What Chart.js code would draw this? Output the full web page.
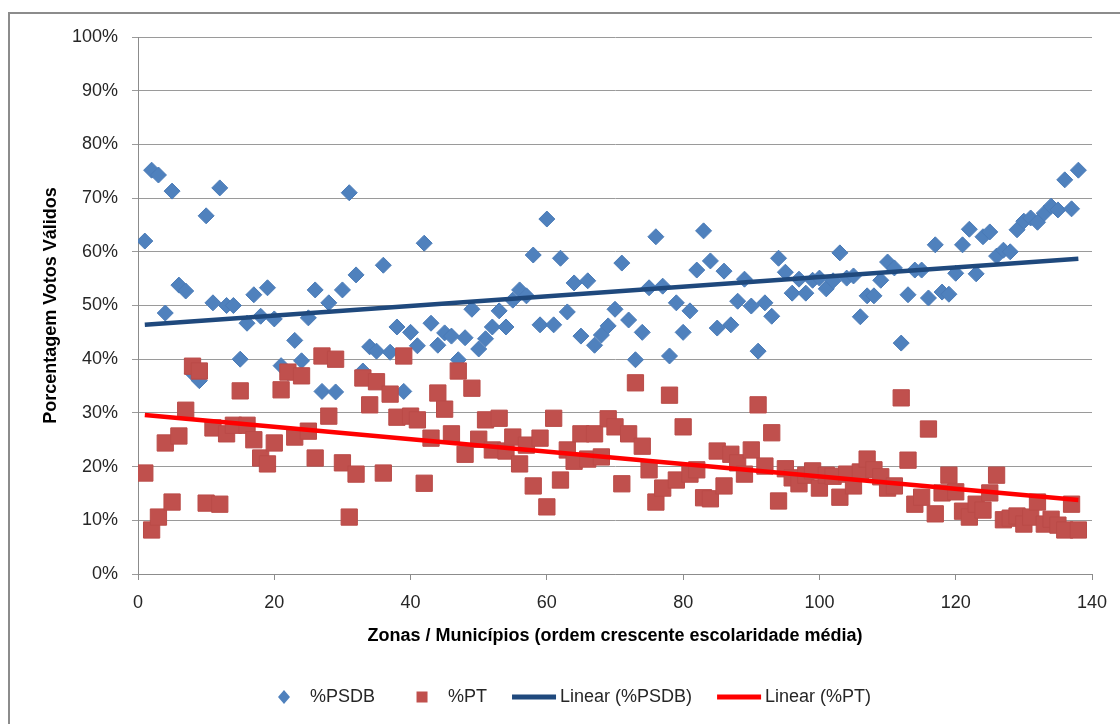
<!DOCTYPE html>
<html>
<head>
<meta charset="utf-8">
<script src="https://cdn.jsdelivr.net/npm/chart.js@4"></script>
<style>
  body { margin: 0; background: #fff; }
  #wrap { position: relative; width: 1120px; height: 724px; overflow: hidden; }
  #frame { position: absolute; left: 8px; top: 12px; width: 1200px; height: 800px;
           border-left: 2px solid #8c8c8c; border-top: 2px solid #8c8c8c; }
  canvas { position: absolute; left: 0; top: 0; }
</style>
</head>
<body>
<div id="wrap">
  <div id="frame"></div>
  <canvas id="myChart" width="1120" height="724"></canvas>
</div>
<script>
const ctx = document.getElementById('myChart').getContext('2d');

// % of valid votes per zone, in order of rising average schooling
const psdb = [
  62, 75.2, 74.3, 48.6, 71.3, 53.8, 52.7, 37.4, 36, 66.7,
  50.5, 71.9, 50, 50, 40, 46.7, 52, 48, 53.3, 47.5,
  38.8, 37.5, 43.5, 39.7, 47.7, 52.9, 34, 50.5, 33.9, 52.9,
  71, 55.7, 37.8, 42.3, 41.5, 57.5, 41.3, 46, 34, 45,
  42.5, 61.6, 46.7, 42.6, 44.9, 44.3, 39.9, 44, 49.3, 41.9,
  43.8, 46, 49, 46, 51, 52.9, 51.8, 59.4, 46.4, 66.1,
  46.4, 58.8, 48.8, 54.2, 44.3, 54.6, 42.6, 44.5, 46.2, 49.3,
  57.9, 47.3, 39.9, 45, 53.3, 62.8, 53.6, 40.6, 50.5, 45,
  49, 56.6, 63.9, 58.3, 45.8, 56.4, 46.4, 50.8, 54.9, 49.9,
  41.5, 50.5, 48, 58.8, 56.2, 52.3, 54.9, 52.3, 54.7, 55.1,
  53.1, 54.6, 59.8, 55.1, 55.5, 47.9, 51.8, 51.8, 54.7, 58.1,
  57, 43, 52, 56.6, 56.6, 51.4, 61.3, 52.5, 52.1, 56,
  61.3, 64.2, 55.9, 62.8, 63.7, 59.2, 60.3, 60, 64.1, 65.7,
  66.3, 65.5, 67.2, 68.5, 67.8, 73.4, 68, 75.2
];
const pt = [
  18.8, 8.2, 10.6, 24.4, 13.4, 25.7, 30.5, 38.7, 37.8, 13.2,
  27.2, 13, 26.1, 27.7, 34.1, 27.7, 25, 21.6, 20.5, 24.4,
  34.3, 37.6, 25.5, 36.9, 26.6, 21.6, 40.6, 29.4, 40, 20.7,
  10.6, 18.6, 36.5, 31.5, 35.8, 18.8, 33.5, 29.2, 40.6, 29.4,
  28.7, 16.9, 25.3, 33.7, 30.7, 26.1, 37.8, 22.3, 34.6, 25.1,
  28.7, 23.1, 29, 22.9, 25.5, 20.5, 24, 16.4, 25.3, 12.5,
  29, 17.5, 23.1, 21, 26.1, 21.4, 26.1, 21.8, 28.9, 27.4,
  16.8, 26.1, 35.6, 23.8, 19.4, 13.4, 16, 33.3, 17.5, 27.4,
  18.6, 19.4, 14.2, 14, 22.9, 16.4, 22.3, 20.7, 18.6, 23.1,
  31.5, 20.1, 26.3, 13.6, 19.6, 17.9, 16.8, 18.4, 19.2, 16,
  18.4, 18.2, 14.3, 18.6, 16.4, 19, 21.4, 19.4, 18.1, 16,
  16.4, 32.8, 21.2, 13, 14.3, 27, 11.2, 15.1, 18.4, 15.3,
  11.7, 10.6, 13, 11.9, 15.1, 18.4, 10.1, 10.4, 10.8, 9.3,
  10.6, 13.4, 9.3, 10.2, 9.1, 8.2, 13, 8.2
];

// linear trend lines (end points)
const trendX = [1, 138];
const trendPSDB = [46.4, 58.7];
const trendPT = [29.6, 13.8];

const xTicks = [0, 20, 40, 60, 80, 100, 120, 140];
const yTicks = [0, 10, 20, 30, 40, 50, 60, 70, 80, 90, 100];

const toPoints = (arr) => arr.map((v, i) => ({ x: i + 1, y: v }));
const trendPoints = (arr) => arr.map((v, i) => ({ x: trendX[i], y: v }));

const FONT = '"Liberation Sans", Arial, sans-serif';

// Excel-like legend drawn under the axis title
const legendPlugin = {
    id: 'excelLegend',
    afterDraw(chart) {
        const c = chart.ctx;
        const items = chart.data.datasets;
        const slot = 44, gap = 4, spacing = 25, cy = 697;
        c.save();
        c.font = '18px ' + FONT;
        c.textBaseline = 'middle';
        c.textAlign = 'left';
        let x = 262;
        items.forEach(ds => {
            const mid = x + slot / 2;
            if (ds.showLine) {
                c.strokeStyle = ds.borderColor;
                c.lineWidth = 5;
                c.beginPath();
                c.moveTo(x, cy);
                c.lineTo(x + slot, cy);
                c.stroke();
            } else if (ds.pointStyle === 'rectRot') {
                c.fillStyle = ds.backgroundColor;
                c.beginPath();
                c.moveTo(mid, cy - 7);
                c.lineTo(mid + 6, cy);
                c.lineTo(mid, cy + 7);
                c.lineTo(mid - 6, cy);
                c.closePath();
                c.fill();
            } else {
                c.fillStyle = ds.backgroundColor;
                c.fillRect(mid - 5.5, cy - 5.5, 11, 11);
            }
            x += slot + gap;
            c.fillStyle = '#262626';
            c.fillText(ds.label, x, cy);
            x += c.measureText(ds.label).width + spacing;
        });
        c.restore();
    }
};

const myChart = new Chart(ctx, {
    type: 'scatter',
    data: {
        datasets: [
            {
                label: '%PSDB',
                data: toPoints(psdb),
                pointStyle: 'rectRot',
                pointRadius: 8,
                pointHoverRadius: 8,
                backgroundColor: '#4F81BD',
                borderColor: '#4A7BB7',
                borderWidth: 1,
                order: 3
            },
            {
                label: '%PT',
                data: toPoints(pt),
                pointStyle: 'rect',
                pointRadius: 11.5,
                pointHoverRadius: 11.5,
                backgroundColor: '#C0504D',
                borderColor: '#BA4B48',
                borderWidth: 1,
                order: 2
            },
            {
                label: 'Linear (%PSDB)',
                data: trendPoints(trendPSDB),
                showLine: true,
                pointRadius: 0,
                borderColor: '#1F497D',
                backgroundColor: '#1F497D',
                borderWidth: 4.5,
                order: 1
            },
            {
                label: 'Linear (%PT)',
                data: trendPoints(trendPT),
                showLine: true,
                pointRadius: 0,
                borderColor: '#FF0000',
                backgroundColor: '#FF0000',
                borderWidth: 4.5,
                order: 0
            }
        ]
    },
    options: {
        responsive: false,
        animation: false,
        layout: { padding: { left: 0, top: 37, right: 28, bottom: 0 } },
        plugins: {
            legend: { display: false },
            tooltip: { enabled: false }
        },
        scales: {
            x: {
                type: 'linear',
                min: 0,
                max: 140,
                afterBuildTicks: (scale) => { scale.ticks = xTicks.map(v => ({ value: v })); },
                afterFit: (scale) => { scale.height = 150; },
                grid: { drawOnChartArea: false, drawTicks: true, tickLength: 6, color: '#8c8c8c' },
                border: { color: '#8c8c8c' },
                ticks: { padding: 12, color: '#262626', font: { family: FONT, size: 18 } },
                title: {
                    display: true,
                    text: 'Zonas / Municípios (ordem crescente escolaridade média)',
                    color: '#000',
                    font: { family: FONT, size: 18, weight: 'bold' },
                    padding: { top: 0, bottom: 77 }
                }
            },
            y: {
                min: 0,
                max: 100,
                afterBuildTicks: (scale) => { scale.ticks = yTicks.map(v => ({ value: v })); },
                afterFit: (scale) => { scale.width = 138; },
                grid: { color: '#9a9a9a', tickLength: 6 },
                border: { color: '#8c8c8c' },
                ticks: {
                    padding: 14,
                    color: '#262626',
                    font: { family: FONT, size: 18 },
                    callback: (v) => v + '%'
                },
                title: {
                    display: true,
                    text: 'Porcentagem Votos Válidos',
                    color: '#000',
                    font: { family: FONT, size: 18, weight: 'bold' },
                    padding: { top: 40, bottom: 0 }
                }
            }
        }
    },
    plugins: [legendPlugin]
});
</script>
</body>
</html>
